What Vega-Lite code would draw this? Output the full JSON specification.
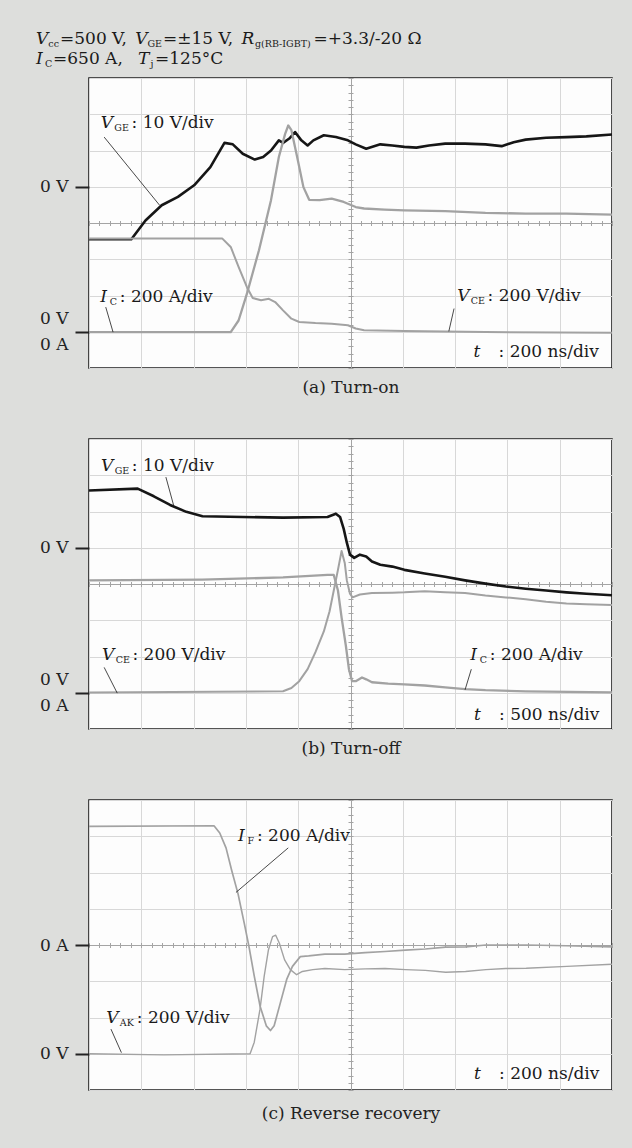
{
  "$schema": "https://vega.github.io/schema/vega-lite/v6.json",
  "background": "#dddedc",
  "padding": {"left": 35, "top": 29, "right": 24, "bottom": 60},
  "spacing": 71,
  "bounds": "flush",
  "config": {
    "view": {"fill": "#fdfdfd", "stroke": "#1e1e1e", "strokeWidth": 1.6},
    "font": "DejaVu Serif",
    "axis": {"titleFont": "DejaVu Serif", "labelFont": "DejaVu Serif"}
  },
  "datasets": {
    "tr": [
      {"p":"a","s":"VGE","t":0,"v":3.55},{"p":"a","s":"VGE","t":0.81,"v":3.55},{"p":"a","s":"VGE","t":1.08,"v":4.07},{"p":"a","s":"VGE","t":1.39,"v":4.49},{"p":"a","s":"VGE","t":1.70,"v":4.72},{"p":"a","s":"VGE","t":2.01,"v":5.04},{"p":"a","s":"VGE","t":2.32,"v":5.54},{"p":"a","s":"VGE","t":2.59,"v":6.21},{"p":"a","s":"VGE","t":2.75,"v":6.17},{"p":"a","s":"VGE","t":2.94,"v":5.91},{"p":"a","s":"VGE","t":3.17,"v":5.75},{"p":"a","s":"VGE","t":3.33,"v":5.82},{"p":"a","s":"VGE","t":3.48,"v":6.00},{"p":"a","s":"VGE","t":3.63,"v":6.28},{"p":"a","s":"VGE","t":3.71,"v":6.21},{"p":"a","s":"VGE","t":3.83,"v":6.33},{"p":"a","s":"VGE","t":3.94,"v":6.51},{"p":"a","s":"VGE","t":4.06,"v":6.28},{"p":"a","s":"VGE","t":4.18,"v":6.14},{"p":"a","s":"VGE","t":4.29,"v":6.28},{"p":"a","s":"VGE","t":4.49,"v":6.42},{"p":"a","s":"VGE","t":4.72,"v":6.37},{"p":"a","s":"VGE","t":4.95,"v":6.28},{"p":"a","s":"VGE","t":5.10,"v":6.17},{"p":"a","s":"VGE","t":5.30,"v":6.05},{"p":"a","s":"VGE","t":5.57,"v":6.17},{"p":"a","s":"VGE","t":5.80,"v":6.14},{"p":"a","s":"VGE","t":6.03,"v":6.10},{"p":"a","s":"VGE","t":6.26,"v":6.08},{"p":"a","s":"VGE","t":6.50,"v":6.14},{"p":"a","s":"VGE","t":6.81,"v":6.19},{"p":"a","s":"VGE","t":7.19,"v":6.19},{"p":"a","s":"VGE","t":7.58,"v":6.17},{"p":"a","s":"VGE","t":7.89,"v":6.12},{"p":"a","s":"VGE","t":8.12,"v":6.23},{"p":"a","s":"VGE","t":8.35,"v":6.30},{"p":"a","s":"VGE","t":8.74,"v":6.35},{"p":"a","s":"VGE","t":9.13,"v":6.37},{"p":"a","s":"VGE","t":9.51,"v":6.39},{"p":"a","s":"VGE","t":10,"v":6.44},
      {"p":"a","s":"IC","t":0,"v":0.99},{"p":"a","s":"IC","t":2.71,"v":0.99},{"p":"a","s":"IC","t":2.86,"v":1.31},{"p":"a","s":"IC","t":3.02,"v":2.05},{"p":"a","s":"IC","t":3.25,"v":3.25},{"p":"a","s":"IC","t":3.48,"v":4.63},{"p":"a","s":"IC","t":3.63,"v":5.82},{"p":"a","s":"IC","t":3.75,"v":6.46},{"p":"a","s":"IC","t":3.81,"v":6.69},{"p":"a","s":"IC","t":3.87,"v":6.56},{"p":"a","s":"IC","t":3.98,"v":5.82},{"p":"a","s":"IC","t":4.10,"v":4.99},{"p":"a","s":"IC","t":4.21,"v":4.64},{"p":"a","s":"IC","t":4.41,"v":4.63},{"p":"a","s":"IC","t":4.64,"v":4.67},{"p":"a","s":"IC","t":4.87,"v":4.58},{"p":"a","s":"IC","t":5.10,"v":4.44},{"p":"a","s":"IC","t":5.26,"v":4.40},{"p":"a","s":"IC","t":5.65,"v":4.37},{"p":"a","s":"IC","t":6.03,"v":4.35},{"p":"a","s":"IC","t":6.81,"v":4.33},{"p":"a","s":"IC","t":7.58,"v":4.28},{"p":"a","s":"IC","t":8.35,"v":4.26},{"p":"a","s":"IC","t":9.13,"v":4.26},{"p":"a","s":"IC","t":10,"v":4.23},
      {"p":"a","s":"VCE","t":0,"v":3.57},{"p":"a","s":"VCE","t":2.55,"v":3.57},{"p":"a","s":"VCE","t":2.71,"v":3.34},{"p":"a","s":"VCE","t":2.86,"v":2.79},{"p":"a","s":"VCE","t":3.02,"v":2.23},{"p":"a","s":"VCE","t":3.13,"v":1.93},{"p":"a","s":"VCE","t":3.29,"v":1.87},{"p":"a","s":"VCE","t":3.44,"v":1.91},{"p":"a","s":"VCE","t":3.56,"v":1.82},{"p":"a","s":"VCE","t":3.71,"v":1.59},{"p":"a","s":"VCE","t":3.87,"v":1.36},{"p":"a","s":"VCE","t":4.02,"v":1.27},{"p":"a","s":"VCE","t":4.33,"v":1.24},{"p":"a","s":"VCE","t":4.64,"v":1.22},{"p":"a","s":"VCE","t":4.95,"v":1.18},{"p":"a","s":"VCE","t":5.10,"v":1.09},{"p":"a","s":"VCE","t":5.26,"v":1.04},{"p":"a","s":"VCE","t":6.03,"v":1.02},{"p":"a","s":"VCE","t":7.58,"v":0.99},{"p":"a","s":"VCE","t":10,"v":0.97},
      {"p":"b","s":"VGE","t":0,"v":6.58},{"p":"b","s":"VGE","t":0.93,"v":6.63},{"p":"b","s":"VGE","t":1.24,"v":6.42},{"p":"b","s":"VGE","t":1.55,"v":6.18},{"p":"b","s":"VGE","t":1.86,"v":5.99},{"p":"b","s":"VGE","t":2.17,"v":5.87},{"p":"b","s":"VGE","t":2.94,"v":5.85},{"p":"b","s":"VGE","t":3.71,"v":5.83},{"p":"b","s":"VGE","t":4.56,"v":5.85},{"p":"b","s":"VGE","t":4.72,"v":5.94},{"p":"b","s":"VGE","t":4.80,"v":5.85},{"p":"b","s":"VGE","t":4.87,"v":5.52},{"p":"b","s":"VGE","t":4.93,"v":5.14},{"p":"b","s":"VGE","t":4.99,"v":4.81},{"p":"b","s":"VGE","t":5.07,"v":4.72},{"p":"b","s":"VGE","t":5.18,"v":4.81},{"p":"b","s":"VGE","t":5.30,"v":4.76},{"p":"b","s":"VGE","t":5.41,"v":4.62},{"p":"b","s":"VGE","t":5.57,"v":4.53},{"p":"b","s":"VGE","t":5.80,"v":4.48},{"p":"b","s":"VGE","t":6.03,"v":4.39},{"p":"b","s":"VGE","t":6.42,"v":4.29},{"p":"b","s":"VGE","t":6.81,"v":4.20},{"p":"b","s":"VGE","t":7.19,"v":4.10},{"p":"b","s":"VGE","t":7.58,"v":4.01},{"p":"b","s":"VGE","t":7.97,"v":3.93},{"p":"b","s":"VGE","t":8.35,"v":3.87},{"p":"b","s":"VGE","t":8.74,"v":3.82},{"p":"b","s":"VGE","t":9.13,"v":3.77},{"p":"b","s":"VGE","t":9.51,"v":3.73},{"p":"b","s":"VGE","t":10,"v":3.69},
      {"p":"b","s":"IC","t":0,"v":4.10},{"p":"b","s":"IC","t":2.17,"v":4.12},{"p":"b","s":"IC","t":3.71,"v":4.18},{"p":"b","s":"IC","t":4.56,"v":4.25},{"p":"b","s":"IC","t":4.68,"v":4.25},{"p":"b","s":"IC","t":4.76,"v":3.82},{"p":"b","s":"IC","t":4.83,"v":3.07},{"p":"b","s":"IC","t":4.91,"v":2.31},{"p":"b","s":"IC","t":4.97,"v":1.65},{"p":"b","s":"IC","t":5.03,"v":1.32},{"p":"b","s":"IC","t":5.10,"v":1.32},{"p":"b","s":"IC","t":5.22,"v":1.42},{"p":"b","s":"IC","t":5.30,"v":1.37},{"p":"b","s":"IC","t":5.41,"v":1.29},{"p":"b","s":"IC","t":5.72,"v":1.25},{"p":"b","s":"IC","t":6.03,"v":1.23},{"p":"b","s":"IC","t":6.42,"v":1.20},{"p":"b","s":"IC","t":6.81,"v":1.15},{"p":"b","s":"IC","t":7.19,"v":1.10},{"p":"b","s":"IC","t":7.58,"v":1.07},{"p":"b","s":"IC","t":8.35,"v":1.04},{"p":"b","s":"IC","t":10,"v":1.01},
      {"p":"b","s":"VCE","t":0,"v":1.01},{"p":"b","s":"VCE","t":3.71,"v":1.04},{"p":"b","s":"VCE","t":3.87,"v":1.13},{"p":"b","s":"VCE","t":4.02,"v":1.32},{"p":"b","s":"VCE","t":4.18,"v":1.65},{"p":"b","s":"VCE","t":4.33,"v":2.12},{"p":"b","s":"VCE","t":4.49,"v":2.69},{"p":"b","s":"VCE","t":4.60,"v":3.25},{"p":"b","s":"VCE","t":4.68,"v":3.82},{"p":"b","s":"VCE","t":4.76,"v":4.39},{"p":"b","s":"VCE","t":4.83,"v":4.91},{"p":"b","s":"VCE","t":4.89,"v":4.58},{"p":"b","s":"VCE","t":4.93,"v":4.10},{"p":"b","s":"VCE","t":4.99,"v":3.73},{"p":"b","s":"VCE","t":5.04,"v":3.63},{"p":"b","s":"VCE","t":5.18,"v":3.71},{"p":"b","s":"VCE","t":5.41,"v":3.75},{"p":"b","s":"VCE","t":5.80,"v":3.76},{"p":"b","s":"VCE","t":6.03,"v":3.77},{"p":"b","s":"VCE","t":6.42,"v":3.80},{"p":"b","s":"VCE","t":6.81,"v":3.77},{"p":"b","s":"VCE","t":7.19,"v":3.75},{"p":"b","s":"VCE","t":7.58,"v":3.68},{"p":"b","s":"VCE","t":7.97,"v":3.63},{"p":"b","s":"VCE","t":8.35,"v":3.58},{"p":"b","s":"VCE","t":8.74,"v":3.51},{"p":"b","s":"VCE","t":9.13,"v":3.46},{"p":"b","s":"VCE","t":9.51,"v":3.44},{"p":"b","s":"VCE","t":10,"v":3.42},
      {"p":"c","s":"IF","t":0,"v":7.27},{"p":"c","s":"IF","t":2.39,"v":7.29},{"p":"c","s":"IF","t":2.50,"v":7.09},{"p":"c","s":"IF","t":2.62,"v":6.68},{"p":"c","s":"IF","t":2.73,"v":6.05},{"p":"c","s":"IF","t":2.85,"v":5.41},{"p":"c","s":"IF","t":2.97,"v":4.59},{"p":"c","s":"IF","t":3.06,"v":3.95},{"p":"c","s":"IF","t":3.16,"v":3.14},{"p":"c","s":"IF","t":3.27,"v":2.32},{"p":"c","s":"IF","t":3.39,"v":1.77},{"p":"c","s":"IF","t":3.47,"v":1.64},{"p":"c","s":"IF","t":3.54,"v":1.77},{"p":"c","s":"IF","t":3.66,"v":2.41},{"p":"c","s":"IF","t":3.78,"v":3.05},{"p":"c","s":"IF","t":3.89,"v":3.41},{"p":"c","s":"IF","t":4.04,"v":3.68},{"p":"c","s":"IF","t":4.20,"v":3.70},{"p":"c","s":"IF","t":4.51,"v":3.75},{"p":"c","s":"IF","t":4.89,"v":3.75},{"p":"c","s":"IF","t":5.28,"v":3.79},{"p":"c","s":"IF","t":5.66,"v":3.82},{"p":"c","s":"IF","t":6.05,"v":3.86},{"p":"c","s":"IF","t":6.43,"v":3.89},{"p":"c","s":"IF","t":6.82,"v":3.94},{"p":"c","s":"IF","t":7.20,"v":3.95},{"p":"c","s":"IF","t":7.59,"v":4.00},{"p":"c","s":"IF","t":8.36,"v":4.00},{"p":"c","s":"IF","t":9.13,"v":3.98},{"p":"c","s":"IF","t":10,"v":3.95},
      {"p":"c","s":"VAK","t":0,"v":1.0},{"p":"c","s":"VAK","t":1.43,"v":0.97},{"p":"c","s":"VAK","t":3.08,"v":1.0},{"p":"c","s":"VAK","t":3.16,"v":1.32},{"p":"c","s":"VAK","t":3.27,"v":2.23},{"p":"c","s":"VAK","t":3.35,"v":3.14},{"p":"c","s":"VAK","t":3.43,"v":3.86},{"p":"c","s":"VAK","t":3.51,"v":4.23},{"p":"c","s":"VAK","t":3.57,"v":4.27},{"p":"c","s":"VAK","t":3.64,"v":4.05},{"p":"c","s":"VAK","t":3.74,"v":3.59},{"p":"c","s":"VAK","t":3.85,"v":3.32},{"p":"c","s":"VAK","t":3.97,"v":3.18},{"p":"c","s":"VAK","t":4.08,"v":3.27},{"p":"c","s":"VAK","t":4.28,"v":3.32},{"p":"c","s":"VAK","t":4.51,"v":3.35},{"p":"c","s":"VAK","t":4.89,"v":3.32},{"p":"c","s":"VAK","t":5.28,"v":3.34},{"p":"c","s":"VAK","t":5.66,"v":3.35},{"p":"c","s":"VAK","t":6.05,"v":3.32},{"p":"c","s":"VAK","t":6.43,"v":3.30},{"p":"c","s":"VAK","t":6.82,"v":3.25},{"p":"c","s":"VAK","t":7.20,"v":3.27},{"p":"c","s":"VAK","t":7.59,"v":3.32},{"p":"c","s":"VAK","t":7.97,"v":3.35},{"p":"c","s":"VAK","t":8.36,"v":3.36},{"p":"c","s":"VAK","t":9.14,"v":3.41},{"p":"c","s":"VAK","t":10,"v":3.47}
    ],
    "ld": [
      {"p":"a","x":0.29,"y":6.37,"x2":1.35,"y2":4.49},
      {"p":"a","x":0.32,"y":1.68,"x2":0.46,"y2":0.99},
      {"p":"a","x":6.98,"y":1.64,"x2":6.88,"y2":1.01},
      {"p":"b","x":1.47,"y":6.95,"x2":1.62,"y2":6.16},
      {"p":"b","x":0.29,"y":1.70,"x2":0.54,"y2":0.99},
      {"p":"b","x":7.31,"y":1.65,"x2":7.19,"y2":1.08},
      {"p":"c","x":3.81,"y":6.68,"x2":2.81,"y2":5.45},
      {"p":"c","x":0.42,"y":1.68,"x2":0.62,"y2":1.03}
    ],
    "lb": [
      {"p":"a","part":"sym","x":-1.013,"y":9.08,"text":"V"},
      {"p":"a","part":"sub","x":-0.778,"y":9.08,"text":"cc"},
      {"p":"a","part":"txt","x":-0.554,"y":9.08,"text":"=500 V,"},
      {"p":"a","part":"sym","x":0.883,"y":9.08,"text":"V"},
      {"p":"a","part":"sub","x":1.119,"y":9.08,"text":"GE"},
      {"p":"a","part":"txt","x":1.415,"y":9.08,"text":"=±15 V,"},
      {"p":"a","part":"sym","x":2.918,"y":9.08,"text":"R"},
      {"p":"a","part":"sub","x":3.174,"y":9.08,"text":"g(RB-IGBT)"},
      {"p":"a","part":"txt","x":4.293,"y":9.08,"text":"=+3.3/-20 Ω"},
      {"p":"a","part":"sym","x":-1.013,"y":8.52,"text":"I"},
      {"p":"a","part":"sub","x":-0.841,"y":8.52,"text":"C"},
      {"p":"a","part":"txt","x":-0.688,"y":8.52,"text":"=650 A,"},
      {"p":"a","part":"sym","x":0.937,"y":8.52,"text":"T"},
      {"p":"a","part":"sub","x":1.176,"y":8.52,"text":"j"},
      {"p":"a","part":"txt","x":1.262,"y":8.52,"text":"=125°C"},
      {"p":"a","part":"sym","x":0.224,"y":6.75,"text":"V"},
      {"p":"a","part":"sub","x":0.484,"y":6.75,"text":"GE"},
      {"p":"a","part":"txt","x":0.813,"y":6.75,"text":": 10 V/div"},
      {"p":"a","part":"sym","x":0.215,"y":1.96,"text":"I"},
      {"p":"a","part":"sub","x":0.395,"y":1.96,"text":"C"},
      {"p":"a","part":"txt","x":0.588,"y":1.96,"text":": 200 A/div"},
      {"p":"a","part":"sym","x":7.04,"y":1.98,"text":"V"},
      {"p":"a","part":"sub","x":7.30,"y":1.98,"text":"CE"},
      {"p":"a","part":"txt","x":7.621,"y":1.98,"text":": 200 V/div"},
      {"p":"a","part":"sym","x":7.35,"y":0.44,"text":"t"},
      {"p":"a","part":"txt","x":7.83,"y":0.44,"text":": 200 ns/div"},
      {"p":"b","part":"sym","x":0.23,"y":7.26,"text":"V"},
      {"p":"b","part":"sub","x":0.49,"y":7.26,"text":"GE"},
      {"p":"b","part":"txt","x":0.819,"y":7.26,"text":": 10 V/div"},
      {"p":"b","part":"sym","x":0.25,"y":2.03,"text":"V"},
      {"p":"b","part":"sub","x":0.51,"y":2.03,"text":"CE"},
      {"p":"b","part":"txt","x":0.831,"y":2.03,"text":": 200 V/div"},
      {"p":"b","part":"sym","x":7.29,"y":2.03,"text":"I"},
      {"p":"b","part":"sub","x":7.47,"y":2.03,"text":"C"},
      {"p":"b","part":"txt","x":7.663,"y":2.03,"text":": 200 A/div"},
      {"p":"b","part":"sym","x":7.36,"y":0.38,"text":"t"},
      {"p":"b","part":"txt","x":7.84,"y":0.38,"text":": 500 ns/div"},
      {"p":"c","part":"sym","x":2.85,"y":7.0,"text":"I"},
      {"p":"c","part":"sub","x":3.03,"y":7.0,"text":"F"},
      {"p":"c","part":"txt","x":3.211,"y":7.0,"text":": 200 A/div"},
      {"p":"c","part":"sym","x":0.33,"y":2.0,"text":"V"},
      {"p":"c","part":"sub","x":0.59,"y":2.0,"text":"AK"},
      {"p":"c","part":"txt","x":0.913,"y":2.0,"text":": 200 V/div"},
      {"p":"c","part":"sym","x":7.36,"y":0.45,"text":"t"},
      {"p":"c","part":"txt","x":7.84,"y":0.45,"text":": 200 ns/div"}
    ]
  },
  "vconcat": [
    {
      "width": 523, "height": 290,
      "resolve": {"axis": {"x": "independent", "y": "independent"}},
      "layer": [
        {
          "data": {"name": "tr"}, "transform": [{"filter": "datum.p == 'a'"}],
          "mark": {"type": "line", "strokeJoin": "round"},
          "encoding": {
            "x": {"field": "t", "type": "quantitative", "scale": {"domain": [0, 10], "nice": false, "zero": false},
              "axis": {"orient": "bottom", "values": [0,1,2,3,4,5,6,7,8,9,10], "grid": true, "gridColor": {"condition": {"test": "datum.value === 5", "value": "#a4a4a4"}, "value": "#d8d8d8"}, "labels": false, "ticks": false, "domain": false, "title": "(a) Turn-on", "titleFont": "DejaVu Serif", "titleFontSize": 17, "titleFontWeight": "normal", "titleColor": "#222222", "titlePadding": 11}},
            "y": {"field": "v", "type": "quantitative", "scale": {"domain": [0, 8], "nice": false, "zero": false},
              "axis": {"orient": "left", "values": [1, 5], "grid": false, "domain": false, "tickSize": 14, "tickWidth": 2, "tickColor": "#222222", "labelExpr": "datum.value == 5 ? '0 V' : ['0 V', '0 A']", "labelOffset": {"condition": {"test": "datum.value == 1", "value": -13}, "value": 0}, "labelFont": "DejaVu Serif", "labelFontSize": 17, "labelColor": "#222222", "labelPadding": 7, "labelLineHeight": 26, "title": null}},
            "color": {"field": "s", "type": "nominal", "scale": {"domain": ["VGE","IC","VCE","IF","VAK"], "range": ["#161616","#a2a2a2","#a2a2a2","#a2a2a2","#a2a2a2"]}, "legend": null},
            "strokeWidth": {"field": "s", "type": "nominal", "scale": {"domain": ["VGE","IC","VCE","IF","VAK"], "range": [2.6,1.4,1.4,1.4,1.4]}, "legend": null}
          }
        },
        {
          "data": {"name": "ld"}, "transform": [{"filter": "datum.p == 'a'"}],
          "mark": {"type": "rule", "color": "#1a1a1a", "strokeWidth": 0.8},
          "encoding": {
            "x": {"field": "x", "type": "quantitative", "scale": {"domain": [0, 10], "nice": false, "zero": false}, "axis": null},
            "x2": {"field": "x2"},
            "y": {"field": "y", "type": "quantitative", "scale": {"domain": [0, 8], "nice": false, "zero": false},
              "axis": {"orient": "right", "values": [0,1,2,3,4,5,6,7,8], "grid": true, "gridColor": {"condition": {"test": "datum.value === 4", "value": "#a4a4a4"}, "value": "#d8d8d8"}, "labels": false, "ticks": false, "domain": false, "title": null}},
            "y2": {"field": "y2"}
          }
        },
        {
          "data": {"name": "lb"}, "transform": [{"filter": "datum.p == 'a' && datum.part == 'sym'"}],
          "mark": {"type": "text", "align": "left", "baseline": "middle", "font": "DejaVu Serif", "fontSize": 17, "fontStyle": "italic", "color": "#1a1a1a"},
          "encoding": {
            "x": {"field": "x", "type": "quantitative", "scale": {"domain": [0, 10], "nice": false, "zero": false},
              "axis": {"orient": "top", "offset": -145, "values": [0,0.2,0.4,0.6,0.8,1,1.2,1.4,1.6,1.8,2,2.2,2.4,2.6,2.8,3,3.2,3.4,3.6,3.8,4,4.2,4.4,4.6,4.8,5,5.2,5.4,5.6,5.8,6,6.2,6.4,6.6,6.8,7,7.2,7.4,7.6,7.8,8,8.2,8.4,8.6,8.8,9,9.2,9.4,9.6,9.8,10], "tickSize": 2.5, "tickColor": "#a4a4a4", "tickWidth": 1, "labels": false, "domain": false, "grid": false, "title": null}},
            "y": {"field": "y", "type": "quantitative", "scale": {"domain": [0, 8], "nice": false, "zero": false},
              "axis": {"orient": "left", "offset": -261.5, "values": [0,0.2,0.4,0.6,0.8,1,1.2,1.4,1.6,1.8,2,2.2,2.4,2.6,2.8,3,3.2,3.4,3.6,3.8,4,4.2,4.4,4.6,4.8,5,5.2,5.4,5.6,5.8,6,6.2,6.4,6.6,6.8,7,7.2,7.4,7.6,7.8,8], "tickSize": 2.5, "tickColor": "#a4a4a4", "tickWidth": 1, "labels": false, "domain": false, "grid": false, "title": null}},
            "text": {"field": "text"}
          }
        },
        {
          "data": {"name": "lb"}, "transform": [{"filter": "datum.p == 'a' && datum.part == 'sub'"}],
          "mark": {"type": "text", "align": "left", "baseline": "middle", "font": "DejaVu Serif", "fontSize": 9.5, "dy": 5, "color": "#1a1a1a"},
          "encoding": {
            "x": {"field": "x", "type": "quantitative", "scale": {"domain": [0, 10], "nice": false, "zero": false},
              "axis": {"orient": "bottom", "offset": -145, "values": [0,0.2,0.4,0.6,0.8,1,1.2,1.4,1.6,1.8,2,2.2,2.4,2.6,2.8,3,3.2,3.4,3.6,3.8,4,4.2,4.4,4.6,4.8,5,5.2,5.4,5.6,5.8,6,6.2,6.4,6.6,6.8,7,7.2,7.4,7.6,7.8,8,8.2,8.4,8.6,8.8,9,9.2,9.4,9.6,9.8,10], "tickSize": 2.5, "tickColor": "#a4a4a4", "tickWidth": 1, "labels": false, "domain": false, "grid": false, "title": null}},
            "y": {"field": "y", "type": "quantitative", "scale": {"domain": [0, 8], "nice": false, "zero": false},
              "axis": {"orient": "right", "offset": -261.5, "values": [0,0.2,0.4,0.6,0.8,1,1.2,1.4,1.6,1.8,2,2.2,2.4,2.6,2.8,3,3.2,3.4,3.6,3.8,4,4.2,4.4,4.6,4.8,5,5.2,5.4,5.6,5.8,6,6.2,6.4,6.6,6.8,7,7.2,7.4,7.6,7.8,8], "tickSize": 2.5, "tickColor": "#a4a4a4", "tickWidth": 1, "labels": false, "domain": false, "grid": false, "title": null}},
            "text": {"field": "text"}
          }
        },
        {
          "data": {"name": "lb"}, "transform": [{"filter": "datum.p == 'a' && datum.part == 'txt'"}],
          "mark": {"type": "text", "align": "left", "baseline": "middle", "font": "DejaVu Serif", "fontSize": 17, "color": "#1a1a1a"},
          "encoding": {
            "x": {"field": "x", "type": "quantitative", "scale": {"domain": [0, 10], "nice": false, "zero": false}, "axis": null},
            "y": {"field": "y", "type": "quantitative", "scale": {"domain": [0, 8], "nice": false, "zero": false}, "axis": null},
            "text": {"field": "text"}
          }
        }
      ]
    },
    {
      "width": 523, "height": 290,
      "resolve": {"axis": {"x": "independent", "y": "independent"}},
      "layer": [
        {
          "data": {"name": "tr"}, "transform": [{"filter": "datum.p == 'b'"}],
          "mark": {"type": "line", "strokeJoin": "round"},
          "encoding": {
            "x": {"field": "t", "type": "quantitative", "scale": {"domain": [0, 10], "nice": false, "zero": false},
              "axis": {"orient": "bottom", "values": [0,1,2,3,4,5,6,7,8,9,10], "grid": true, "gridColor": {"condition": {"test": "datum.value === 5", "value": "#a4a4a4"}, "value": "#d8d8d8"}, "labels": false, "ticks": false, "domain": false, "title": "(b) Turn-off", "titleFont": "DejaVu Serif", "titleFontSize": 17, "titleFontWeight": "normal", "titleColor": "#222222", "titlePadding": 11}},
            "y": {"field": "v", "type": "quantitative", "scale": {"domain": [0, 8], "nice": false, "zero": false},
              "axis": {"orient": "left", "values": [1, 5], "grid": false, "domain": false, "tickSize": 14, "tickWidth": 2, "tickColor": "#222222", "labelExpr": "datum.value == 5 ? '0 V' : ['0 V', '0 A']", "labelOffset": {"condition": {"test": "datum.value == 1", "value": -13}, "value": 0}, "labelFont": "DejaVu Serif", "labelFontSize": 17, "labelColor": "#222222", "labelPadding": 7, "labelLineHeight": 26, "title": null}},
            "color": {"field": "s", "type": "nominal", "scale": {"domain": ["VGE","IC","VCE","IF","VAK"], "range": ["#161616","#a2a2a2","#a2a2a2","#a2a2a2","#a2a2a2"]}, "legend": null},
            "strokeWidth": {"field": "s", "type": "nominal", "scale": {"domain": ["VGE","IC","VCE","IF","VAK"], "range": [2.6,1.4,1.4,1.4,1.4]}, "legend": null}
          }
        },
        {
          "data": {"name": "ld"}, "transform": [{"filter": "datum.p == 'b'"}],
          "mark": {"type": "rule", "color": "#1a1a1a", "strokeWidth": 0.8},
          "encoding": {
            "x": {"field": "x", "type": "quantitative", "scale": {"domain": [0, 10], "nice": false, "zero": false}, "axis": null},
            "x2": {"field": "x2"},
            "y": {"field": "y", "type": "quantitative", "scale": {"domain": [0, 8], "nice": false, "zero": false},
              "axis": {"orient": "right", "values": [0,1,2,3,4,5,6,7,8], "grid": true, "gridColor": {"condition": {"test": "datum.value === 4", "value": "#a4a4a4"}, "value": "#d8d8d8"}, "labels": false, "ticks": false, "domain": false, "title": null}},
            "y2": {"field": "y2"}
          }
        },
        {
          "data": {"name": "lb"}, "transform": [{"filter": "datum.p == 'b' && datum.part == 'sym'"}],
          "mark": {"type": "text", "align": "left", "baseline": "middle", "font": "DejaVu Serif", "fontSize": 17, "fontStyle": "italic", "color": "#1a1a1a"},
          "encoding": {
            "x": {"field": "x", "type": "quantitative", "scale": {"domain": [0, 10], "nice": false, "zero": false},
              "axis": {"orient": "top", "offset": -145, "values": [0,0.2,0.4,0.6,0.8,1,1.2,1.4,1.6,1.8,2,2.2,2.4,2.6,2.8,3,3.2,3.4,3.6,3.8,4,4.2,4.4,4.6,4.8,5,5.2,5.4,5.6,5.8,6,6.2,6.4,6.6,6.8,7,7.2,7.4,7.6,7.8,8,8.2,8.4,8.6,8.8,9,9.2,9.4,9.6,9.8,10], "tickSize": 2.5, "tickColor": "#a4a4a4", "tickWidth": 1, "labels": false, "domain": false, "grid": false, "title": null}},
            "y": {"field": "y", "type": "quantitative", "scale": {"domain": [0, 8], "nice": false, "zero": false},
              "axis": {"orient": "left", "offset": -261.5, "values": [0,0.2,0.4,0.6,0.8,1,1.2,1.4,1.6,1.8,2,2.2,2.4,2.6,2.8,3,3.2,3.4,3.6,3.8,4,4.2,4.4,4.6,4.8,5,5.2,5.4,5.6,5.8,6,6.2,6.4,6.6,6.8,7,7.2,7.4,7.6,7.8,8], "tickSize": 2.5, "tickColor": "#a4a4a4", "tickWidth": 1, "labels": false, "domain": false, "grid": false, "title": null}},
            "text": {"field": "text"}
          }
        },
        {
          "data": {"name": "lb"}, "transform": [{"filter": "datum.p == 'b' && datum.part == 'sub'"}],
          "mark": {"type": "text", "align": "left", "baseline": "middle", "font": "DejaVu Serif", "fontSize": 9.5, "dy": 5, "color": "#1a1a1a"},
          "encoding": {
            "x": {"field": "x", "type": "quantitative", "scale": {"domain": [0, 10], "nice": false, "zero": false},
              "axis": {"orient": "bottom", "offset": -145, "values": [0,0.2,0.4,0.6,0.8,1,1.2,1.4,1.6,1.8,2,2.2,2.4,2.6,2.8,3,3.2,3.4,3.6,3.8,4,4.2,4.4,4.6,4.8,5,5.2,5.4,5.6,5.8,6,6.2,6.4,6.6,6.8,7,7.2,7.4,7.6,7.8,8,8.2,8.4,8.6,8.8,9,9.2,9.4,9.6,9.8,10], "tickSize": 2.5, "tickColor": "#a4a4a4", "tickWidth": 1, "labels": false, "domain": false, "grid": false, "title": null}},
            "y": {"field": "y", "type": "quantitative", "scale": {"domain": [0, 8], "nice": false, "zero": false},
              "axis": {"orient": "right", "offset": -261.5, "values": [0,0.2,0.4,0.6,0.8,1,1.2,1.4,1.6,1.8,2,2.2,2.4,2.6,2.8,3,3.2,3.4,3.6,3.8,4,4.2,4.4,4.6,4.8,5,5.2,5.4,5.6,5.8,6,6.2,6.4,6.6,6.8,7,7.2,7.4,7.6,7.8,8], "tickSize": 2.5, "tickColor": "#a4a4a4", "tickWidth": 1, "labels": false, "domain": false, "grid": false, "title": null}},
            "text": {"field": "text"}
          }
        },
        {
          "data": {"name": "lb"}, "transform": [{"filter": "datum.p == 'b' && datum.part == 'txt'"}],
          "mark": {"type": "text", "align": "left", "baseline": "middle", "font": "DejaVu Serif", "fontSize": 17, "color": "#1a1a1a"},
          "encoding": {
            "x": {"field": "x", "type": "quantitative", "scale": {"domain": [0, 10], "nice": false, "zero": false}, "axis": null},
            "y": {"field": "y", "type": "quantitative", "scale": {"domain": [0, 8], "nice": false, "zero": false}, "axis": null},
            "text": {"field": "text"}
          }
        }
      ]
    },
    {
      "width": 523, "height": 290,
      "resolve": {"axis": {"x": "independent", "y": "independent"}},
      "layer": [
        {
          "data": {"name": "tr"}, "transform": [{"filter": "datum.p == 'c'"}],
          "mark": {"type": "line", "strokeJoin": "round"},
          "encoding": {
            "x": {"field": "t", "type": "quantitative", "scale": {"domain": [0, 10], "nice": false, "zero": false},
              "axis": {"orient": "bottom", "values": [0,1,2,3,4,5,6,7,8,9,10], "grid": true, "gridColor": {"condition": {"test": "datum.value === 5", "value": "#a4a4a4"}, "value": "#d8d8d8"}, "labels": false, "ticks": false, "domain": false, "title": "(c) Reverse recovery", "titleFont": "DejaVu Serif", "titleFontSize": 17, "titleFontWeight": "normal", "titleColor": "#222222", "titlePadding": 15}},
            "y": {"field": "v", "type": "quantitative", "scale": {"domain": [0, 8], "nice": false, "zero": false},
              "axis": {"orient": "left", "values": [1, 4], "grid": false, "domain": false, "tickSize": 14, "tickWidth": 2, "tickColor": "#222222", "labelExpr": "datum.value == 4 ? '0 A' : '0 V'", "labelFont": "DejaVu Serif", "labelFontSize": 17, "labelColor": "#222222", "labelPadding": 7, "title": null}},
            "color": {"field": "s", "type": "nominal", "scale": {"domain": ["VGE","IC","VCE","IF","VAK"], "range": ["#161616","#a2a2a2","#a2a2a2","#a2a2a2","#a2a2a2"]}, "legend": null},
            "strokeWidth": {"field": "s", "type": "nominal", "scale": {"domain": ["VGE","IC","VCE","IF","VAK"], "range": [2.6,1.4,1.4,1.4,1.4]}, "legend": null}
          }
        },
        {
          "data": {"name": "ld"}, "transform": [{"filter": "datum.p == 'c'"}],
          "mark": {"type": "rule", "color": "#1a1a1a", "strokeWidth": 0.8},
          "encoding": {
            "x": {"field": "x", "type": "quantitative", "scale": {"domain": [0, 10], "nice": false, "zero": false}, "axis": null},
            "x2": {"field": "x2"},
            "y": {"field": "y", "type": "quantitative", "scale": {"domain": [0, 8], "nice": false, "zero": false},
              "axis": {"orient": "right", "values": [0,1,2,3,4,5,6,7,8], "grid": true, "gridColor": {"condition": {"test": "datum.value === 4", "value": "#a4a4a4"}, "value": "#d8d8d8"}, "labels": false, "ticks": false, "domain": false, "title": null}},
            "y2": {"field": "y2"}
          }
        },
        {
          "data": {"name": "lb"}, "transform": [{"filter": "datum.p == 'c' && datum.part == 'sym'"}],
          "mark": {"type": "text", "align": "left", "baseline": "middle", "font": "DejaVu Serif", "fontSize": 17, "fontStyle": "italic", "color": "#1a1a1a"},
          "encoding": {
            "x": {"field": "x", "type": "quantitative", "scale": {"domain": [0, 10], "nice": false, "zero": false},
              "axis": {"orient": "top", "offset": -145, "values": [0,0.2,0.4,0.6,0.8,1,1.2,1.4,1.6,1.8,2,2.2,2.4,2.6,2.8,3,3.2,3.4,3.6,3.8,4,4.2,4.4,4.6,4.8,5,5.2,5.4,5.6,5.8,6,6.2,6.4,6.6,6.8,7,7.2,7.4,7.6,7.8,8,8.2,8.4,8.6,8.8,9,9.2,9.4,9.6,9.8,10], "tickSize": 2.5, "tickColor": "#a4a4a4", "tickWidth": 1, "labels": false, "domain": false, "grid": false, "title": null}},
            "y": {"field": "y", "type": "quantitative", "scale": {"domain": [0, 8], "nice": false, "zero": false},
              "axis": {"orient": "left", "offset": -261.5, "values": [0,0.2,0.4,0.6,0.8,1,1.2,1.4,1.6,1.8,2,2.2,2.4,2.6,2.8,3,3.2,3.4,3.6,3.8,4,4.2,4.4,4.6,4.8,5,5.2,5.4,5.6,5.8,6,6.2,6.4,6.6,6.8,7,7.2,7.4,7.6,7.8,8], "tickSize": 2.5, "tickColor": "#a4a4a4", "tickWidth": 1, "labels": false, "domain": false, "grid": false, "title": null}},
            "text": {"field": "text"}
          }
        },
        {
          "data": {"name": "lb"}, "transform": [{"filter": "datum.p == 'c' && datum.part == 'sub'"}],
          "mark": {"type": "text", "align": "left", "baseline": "middle", "font": "DejaVu Serif", "fontSize": 9.5, "dy": 5, "color": "#1a1a1a"},
          "encoding": {
            "x": {"field": "x", "type": "quantitative", "scale": {"domain": [0, 10], "nice": false, "zero": false},
              "axis": {"orient": "bottom", "offset": -145, "values": [0,0.2,0.4,0.6,0.8,1,1.2,1.4,1.6,1.8,2,2.2,2.4,2.6,2.8,3,3.2,3.4,3.6,3.8,4,4.2,4.4,4.6,4.8,5,5.2,5.4,5.6,5.8,6,6.2,6.4,6.6,6.8,7,7.2,7.4,7.6,7.8,8,8.2,8.4,8.6,8.8,9,9.2,9.4,9.6,9.8,10], "tickSize": 2.5, "tickColor": "#a4a4a4", "tickWidth": 1, "labels": false, "domain": false, "grid": false, "title": null}},
            "y": {"field": "y", "type": "quantitative", "scale": {"domain": [0, 8], "nice": false, "zero": false},
              "axis": {"orient": "right", "offset": -261.5, "values": [0,0.2,0.4,0.6,0.8,1,1.2,1.4,1.6,1.8,2,2.2,2.4,2.6,2.8,3,3.2,3.4,3.6,3.8,4,4.2,4.4,4.6,4.8,5,5.2,5.4,5.6,5.8,6,6.2,6.4,6.6,6.8,7,7.2,7.4,7.6,7.8,8], "tickSize": 2.5, "tickColor": "#a4a4a4", "tickWidth": 1, "labels": false, "domain": false, "grid": false, "title": null}},
            "text": {"field": "text"}
          }
        },
        {
          "data": {"name": "lb"}, "transform": [{"filter": "datum.p == 'c' && datum.part == 'txt'"}],
          "mark": {"type": "text", "align": "left", "baseline": "middle", "font": "DejaVu Serif", "fontSize": 17, "color": "#1a1a1a"},
          "encoding": {
            "x": {"field": "x", "type": "quantitative", "scale": {"domain": [0, 10], "nice": false, "zero": false}, "axis": null},
            "y": {"field": "y", "type": "quantitative", "scale": {"domain": [0, 8], "nice": false, "zero": false}, "axis": null},
            "text": {"field": "text"}
          }
        }
      ]
    }
  ]
}
